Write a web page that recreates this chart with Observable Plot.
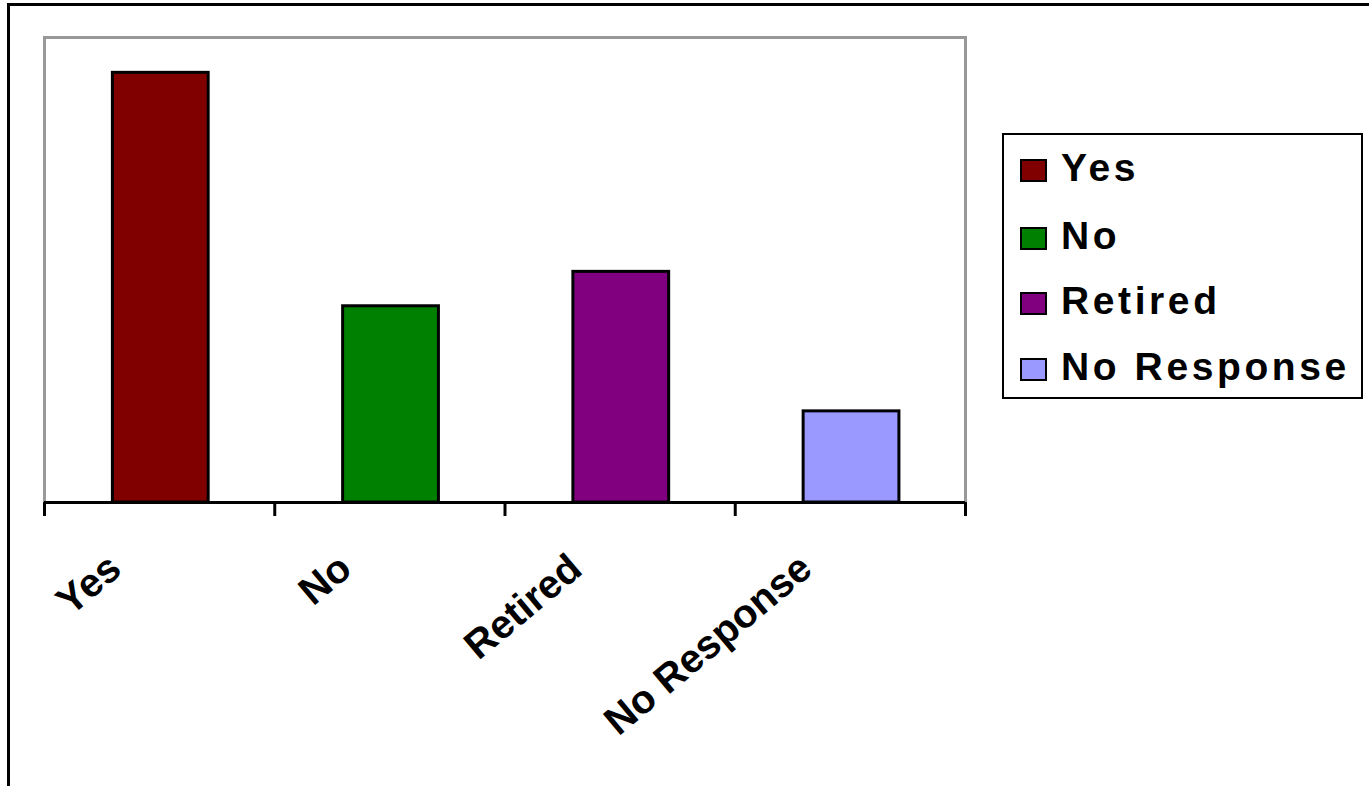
<!DOCTYPE html>
<html>
<head>
<meta charset="utf-8">
<script src="https://cdn.jsdelivr.net/npm/d3@7"></script>
<script src="https://cdn.jsdelivr.net/npm/@observablehq/plot@0.6"></script>
<style>
  html, body { margin: 0; padding: 0; background: #fff; }
  #wrap { position: relative; width: 1369px; height: 786px; overflow: hidden; font-family: "Liberation Sans", Arial, sans-serif; }
  #outer { position: absolute; left: 7px; top: 3px; right: -10px; bottom: -10px; border-top: 3px solid #000; border-left: 3px solid #000; }
  #chart { position: absolute; left: 0; top: 0; }
  #legend { position: absolute; left: 1002px; top: 133px; border: 2px solid #000; box-sizing: border-box; width: 361px; height: 266px; }
  .sw { position: absolute; left: 16px; width: 23px; height: 19px; border: 2px solid #000; }
  .lab { position: absolute; left: 57px; font-weight: bold; font-size: 39px; letter-spacing: 3.6px; white-space: nowrap; line-height: 1; color: #000; }
</style>
</head>
<body>
<div id="wrap">
  <div id="outer"></div>
  <div id="chart"></div>
  <div id="legend"></div>
</div>
<script>
const categories = ["Yes", "No", "Retired", "No Response"];
const values = [46.2, 21.1, 24.8, 9.8];
const colors = ["#800000", "#008000", "#800080", "#9999FF"];
const yMax = 50;

const data = categories.map((c, i) => ({category: c, index: i, value: values[i]}));
const boundaries = d3.range(categories.length + 1);

const chart = Plot.plot({
  width: 1369,
  height: 786,
  marginLeft: 44,
  marginRight: 404,
  marginTop: 37,
  marginBottom: 284,
  x: {domain: [0, categories.length], axis: null},
  y: {domain: [0, yMax], axis: null},
  color: {domain: categories, range: colors},
  marks: [
    Plot.frame({stroke: "#999", strokeWidth: 3}),
    Plot.rectY(data, {
      x1: d => d.index + 0.297,
      x2: d => d.index + 0.713,
      y1: 0,
      y2: "value",
      fill: "category",
      stroke: "#000",
      strokeWidth: 3
    }),
    Plot.ruleY([0], {stroke: "#000", strokeWidth: 3}),
    Plot.axisX({ticks: boundaries, tickSize: 14, tickFormat: () => "", stroke: "#000", strokeWidth: 3, label: null}),
    Plot.text(data, {
      x: d => d.index + 0.5,
      frameAnchor: "bottom",
      text: "category",
      textAnchor: "end",
      lineAnchor: "bottom",
      rotate: -40,
      dx: -36,
      dy: 70,
      fontSize: 40,
      fontWeight: "bold",
      letterSpacing: -1.8,
      fill: "#000"
    })
  ],
  style: {fontFamily: "'Liberation Sans', Arial, sans-serif", background: "transparent", overflow: "visible"}
});
document.getElementById("chart").appendChild(chart);

const color = chart.scale("color");
const legend = document.getElementById("legend");
const rowTops = [13, 81, 146, 212];
categories.forEach((c, i) => {
  const sw = document.createElement("div");
  sw.className = "sw";
  sw.style.top = (rowTops[i] + 11) + "px";
  sw.style.background = color.apply(c);
  legend.appendChild(sw);
  const lab = document.createElement("div");
  lab.className = "lab";
  lab.style.top = rowTops[i] + "px";
  lab.textContent = c;
  legend.appendChild(lab);
});
</script>
</body>
</html>
